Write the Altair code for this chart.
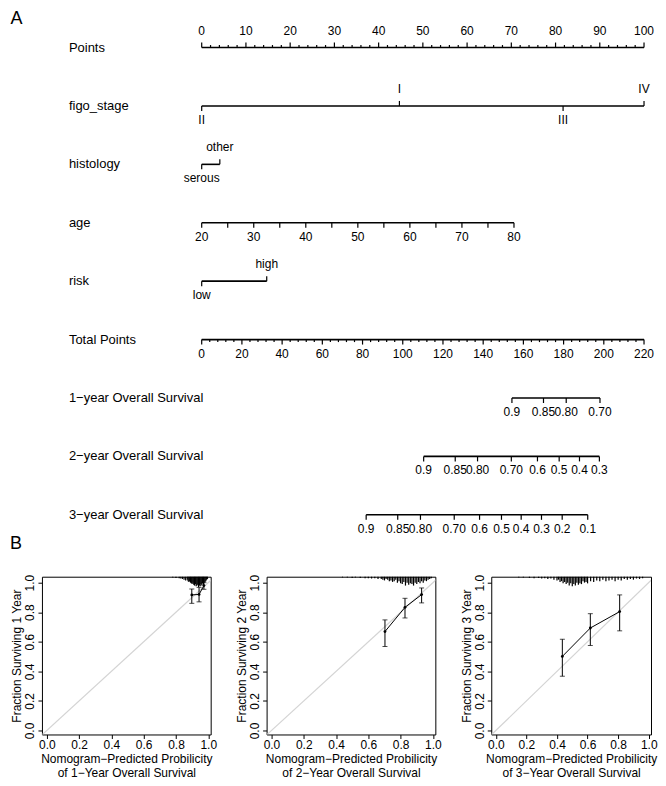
import altair as alt
import pandas as pd

FONT = "Liberation Sans"

# ---------------- nomogram values ----------------
row_names = ["Points", "figo_stage", "histology", "age", "risk", "Total Points",
             "1−year Overall Survival", "2−year Overall Survival", "3−year Overall Survival"]

points_max = 100
points_major_step = 10
points_minor_step = 2

figo_labels = ["II", "I", "III", "IV"]
figo_points = [0, 44.7, 81.7, 100]
figo_sides = ["below", "above", "below", "above"]

histology_labels = ["serous", "other"]
histology_points = [0, 4.1]
histology_sides = ["below", "above"]

age_ticks = [20, 25, 30, 35, 40, 45, 50, 55, 60, 65, 70, 75, 80]
age_labelled = [20, 30, 40, 50, 60, 70, 80]
age_points_at_80 = 70.6

risk_labels = ["low", "high"]
risk_points = [0, 14.7]
risk_sides = ["below", "above"]

total_max = 220
total_major_step = 20
total_minor_step = 4

surv1_labels = ["0.9", "0.85", "0.80", "0.70"]
surv1_total = [154.3, 170.0, 181.3, 198.1]
surv2_labels = ["0.9", "0.85", "0.80", "0.70", "0.6", "0.5", "0.4", "0.3"]
surv2_total = [110.4, 126.1, 137.2, 154.0, 167.0, 177.8, 187.9, 197.8]
surv3_labels = ["0.9", "0.85", "0.80", "0.70", "0.6", "0.5", "0.4", "0.3", "0.2", "0.1"]
surv3_total = [81.8, 97.5, 108.8, 125.6, 138.2, 149.1, 158.9, 169.0, 179.3, 192.0]

# ---------------- calibration values ----------------
cal1_pred = [0.898, 0.943, 0.973]
cal1_obs = [0.917, 0.920, 0.980]
cal1_lo = [0.860, 0.870, 0.955]
cal1_hi = [0.957, 0.968, 1.000]

cal2_pred = [0.703, 0.827, 0.930]
cal2_obs = [0.669, 0.833, 0.919]
cal2_lo = [0.568, 0.761, 0.863]
cal2_hi = [0.748, 0.894, 0.964]

cal3_pred = [0.435, 0.618, 0.810]
cal3_obs = [0.501, 0.693, 0.804]
cal3_lo = [0.367, 0.575, 0.674]
cal3_hi = [0.617, 0.790, 0.917]

spike1_x = [0.78, 0.80, 0.82, 0.83, 0.84, 0.85, 0.86, 0.87, 0.875, 0.88, 0.885, 0.89, 0.895,
            0.90, 0.905, 0.91, 0.915, 0.92, 0.925, 0.93, 0.935, 0.94, 0.945, 0.95, 0.955,
            0.96, 0.965, 0.97, 0.975, 0.98, 0.985, 0.99, 0.995]
spike1_len = [0.005, 0.008, 0.01, 0.012, 0.015, 0.02, 0.025, 0.02, 0.03, 0.035, 0.03, 0.04, 0.045,
              0.05, 0.04, 0.055, 0.06, 0.05, 0.065, 0.06, 0.055, 0.07, 0.06, 0.065, 0.05,
              0.06, 0.045, 0.055, 0.04, 0.035, 0.03, 0.02, 0.015]

spike2_x = [0.44, 0.47, 0.50, 0.52, 0.55, 0.58, 0.60, 0.62, 0.64, 0.66, 0.68,
            0.69, 0.70, 0.71, 0.72, 0.73, 0.74, 0.75, 0.76, 0.77, 0.78, 0.79, 0.80,
            0.81, 0.82, 0.83, 0.84, 0.85, 0.86, 0.87, 0.88, 0.89, 0.90, 0.91, 0.92,
            0.93, 0.94, 0.95, 0.96, 0.97, 0.98, 0.99]
spike2_len = [0.005, 0.005, 0.008, 0.005, 0.008, 0.01, 0.01, 0.012, 0.01, 0.015, 0.015,
              0.02, 0.025, 0.015, 0.02, 0.03, 0.025, 0.035, 0.03, 0.02, 0.04, 0.03, 0.045,
              0.05, 0.035, 0.06, 0.04, 0.055, 0.045, 0.05, 0.06, 0.04, 0.05, 0.035, 0.045,
              0.03, 0.04, 0.025, 0.03, 0.02, 0.015, 0.01]

spike3_x = [0.15, 0.18, 0.22, 0.25, 0.28, 0.30, 0.32, 0.34, 0.36, 0.38,
            0.40, 0.41, 0.42, 0.43, 0.44, 0.45, 0.46, 0.47, 0.48, 0.49, 0.50,
            0.51, 0.52, 0.53, 0.54, 0.55, 0.56, 0.57, 0.58, 0.59, 0.60,
            0.62, 0.64, 0.66, 0.68, 0.70, 0.72, 0.74, 0.76, 0.78, 0.80,
            0.82, 0.84, 0.86, 0.88, 0.90, 0.92, 0.94, 0.96]
spike3_len = [0.005, 0.005, 0.008, 0.01, 0.008, 0.012, 0.01, 0.015, 0.012, 0.02,
              0.025, 0.02, 0.035, 0.03, 0.045, 0.035, 0.05, 0.04, 0.06, 0.045, 0.065,
              0.05, 0.06, 0.04, 0.055, 0.045, 0.05, 0.03, 0.04, 0.035, 0.045,
              0.03, 0.035, 0.025, 0.03, 0.02, 0.03, 0.025, 0.02, 0.03, 0.02,
              0.025, 0.015, 0.02, 0.015, 0.02, 0.012, 0.015, 0.01]

# ---------------- build nomogram tables ----------------
ticks = []
lines = []


def add(row, x, label, side, long=True):
    ticks.append({"row": row, "x": x, "label": label, "side": side,
                  "len": "long" if long else "short"})


for v in range(0, points_max + 1, points_minor_step):
    major = v % points_major_step == 0
    add(0, v, str(v) if major else "", "above", major)
lines.append({"row": 0, "x": 0, "x2": points_max})

for lab, p, s in zip(figo_labels, figo_points, figo_sides):
    add(1, p, lab, s)
lines.append({"row": 1, "x": min(figo_points), "x2": max(figo_points)})

for lab, p, s in zip(histology_labels, histology_points, histology_sides):
    add(2, p, lab, s)
lines.append({"row": 2, "x": min(histology_points), "x2": max(histology_points)})

for a in age_ticks:
    p = (a - age_ticks[0]) / (age_ticks[-1] - age_ticks[0]) * age_points_at_80
    add(3, p, str(a) if a in age_labelled else "", "below")
lines.append({"row": 3, "x": 0, "x2": age_points_at_80})

for lab, p, s in zip(risk_labels, risk_points, risk_sides):
    add(4, p, lab, s)
lines.append({"row": 4, "x": min(risk_points), "x2": max(risk_points)})

scale_tp = points_max / total_max
for v in range(0, total_max + 1, total_minor_step):
    major = v % total_major_step == 0
    add(5, v * scale_tp, str(v) if major else "", "below", major)
lines.append({"row": 5, "x": 0, "x2": points_max})

for r, labs, tps in [(6, surv1_labels, surv1_total), (7, surv2_labels, surv2_total),
                     (8, surv3_labels, surv3_total)]:
    for lab, tp in zip(labs, tps):
        add(r, tp * scale_tp, lab, "below")
    lines.append({"row": r, "x": min(tps) * scale_tp, "x2": max(tps) * scale_tp})

ticks_df = pd.DataFrame(ticks)
lines_df = pd.DataFrame(lines)

AXIS_EXT = 32
NOMO_W, NOMO_H = 607, 548
PX_PER_POINT = 4.43
ROW_PX = 58.5
XMIN = -(192 - AXIS_EXT) / PX_PER_POINT
XMAX = XMIN + NOMO_W / PX_PER_POINT
YMIN = -38 / ROW_PX
YMAX = YMIN + NOMO_H / ROW_PX

xs = alt.Scale(domain=[XMIN, XMAX], nice=False, zero=False)
ys = alt.Scale(domain=[YMIN, YMAX], nice=False, zero=False, reverse=True)
X = alt.X("x:Q", scale=xs, axis=None)
Y = alt.Y("row:Q", scale=ys, axis=None)

base_t = alt.Chart(ticks_df)
layers = [
    alt.Chart(lines_df).mark_rule(color="black", strokeWidth=1.6).encode(
        x=X, x2="x2:Q", y=Y),
]
for side, ln, off in [("above", "long", -5), ("above", "short", -2.5),
                      ("below", "long", 5), ("below", "short", 2.5)]:
    layers.append(
        base_t.transform_filter(
            (alt.datum.side == side) & (alt.datum.len == ln)
        ).mark_rule(color="black", strokeWidth=1.2, y2Offset=off).encode(
            x=X, y=Y, y2="row:Q")
    )
layers.append(
    base_t.transform_filter(alt.datum.side == "above").mark_text(
        baseline="bottom", dy=-10, fontSize=12, color="black").encode(
        x=X, y=Y, text="label:N")
)
layers.append(
    base_t.transform_filter(alt.datum.side == "below").mark_text(
        baseline="top", dy=9, fontSize=12, color="black").encode(
        x=X, y=Y, text="label:N")
)
names_df = pd.DataFrame({"row": list(range(len(row_names))), "name": row_names,
                         "x": [XMIN] * len(row_names)})
layers.append(
    alt.Chart(names_df).mark_text(align="left", baseline="middle", dx=59 - AXIS_EXT,
                                  fontSize=13, color="black").encode(
        x=X, y=Y, text="name:N")
)
panel_df = pd.DataFrame({"tag": ["A", "B"], "x": [XMIN, XMIN], "row": [YMIN, YMAX]})
layers.append(
    alt.Chart(panel_df).transform_filter(alt.datum.tag == "A").mark_text(
        align="center", baseline="middle", dx=6.5 - AXIS_EXT, dy=9, fontSize=18,
        color="black").encode(x=X, y=Y, text="tag:N")
)
layers.append(
    alt.Chart(panel_df).transform_filter(alt.datum.tag == "B").mark_text(
        align="center", baseline="middle", dx=6 - AXIS_EXT, dy=-13, fontSize=18,
        color="black").encode(x=X, y=Y, text="tag:N")
)
nomo = alt.layer(*layers).properties(width=NOMO_W, height=NOMO_H)

# ---------------- calibration panels ----------------
CX = [-0.03, 1.015]
CY = [-0.027, 1.04]
TICKS = [0, 0.2, 0.4, 0.6, 0.8, 1.0]


def cal_panel(year, pred, obs, lo, hi, sx, sl, width):
    cxs = alt.Scale(domain=CX, nice=False, zero=False)
    cys = alt.Scale(domain=CY, nice=False, zero=False)
    pts = pd.DataFrame({"x": pred, "y": obs, "lo": lo, "hi": hi})
    diag = pd.DataFrame({"x": [CX[0] - 0.05, CY[1] + 0.05], "y": [CX[0] - 0.05, CY[1] + 0.05]})
    spikes = pd.DataFrame({"x": sx, "len": sl})
    xa = alt.Axis(values=TICKS, format=".1f", tickSize=4,
                  labelPadding=1, labelFlush=False, titlePadding=3,
                  title=["Nomogram−Predicted Probilicity", f"of {year}−Year Overall Survival"])
    ya = alt.Axis(values=TICKS, format=".1f", tickSize=4,
                  labelAngle=270, labelAlign="center", labelBaseline="bottom",
                  labelPadding=1, labelFlush=False, titlePadding=0,
                  title=f"Fraction Surviving {year} Year")

    def XX(f="x"):
        return alt.X(f"{f}:Q", scale=cxs, axis=xa)

    def YY(f):
        return alt.Y(f"{f}:Q", scale=cys, axis=ya)

    d = alt.Chart(diag).mark_line(color="#d4d4d4", strokeWidth=1.2, clip=True).encode(
        x=XX(), y=YY("y"))
    sp = alt.Chart(spikes).transform_calculate(
        top=str(CY[1]), bot=f"{CY[1]} - datum.len").mark_rule(
        color="black", strokeWidth=1.2).encode(
        x=XX(), y=YY("top"), y2="bot:Q")
    ln = alt.Chart(pts).mark_line(color="black", strokeWidth=1).encode(
        x=XX(), y=YY("y"))
    eb = alt.Chart(pts).mark_rule(color="black", strokeWidth=1).encode(
        x=XX(), y=YY("lo"), y2="hi:Q")
    cap_lo = alt.Chart(pts).mark_tick(color="black", orient="horizontal", size=5,
                                      thickness=1).encode(x=XX(), y=YY("lo"))
    cap_hi = alt.Chart(pts).mark_tick(color="black", orient="horizontal", size=5,
                                      thickness=1).encode(x=XX(), y=YY("hi"))
    pt = alt.Chart(pts).mark_circle(color="black", size=8, opacity=1).encode(
        x=XX(), y=YY("y"))
    return alt.layer(d, sp, ln, eb, cap_lo, cap_hi, pt).properties(
        width=width, height=158,
        view=alt.ViewBackground(stroke="black", strokeWidth=1))


p1 = cal_panel(1, cal1_pred, cal1_obs, cal1_lo, cal1_hi, spike1_x, spike1_len, 169)
p2 = cal_panel(2, cal2_pred, cal2_obs, cal2_lo, cal2_hi, spike2_x, spike2_len, 169)
p3 = cal_panel(3, cal3_pred, cal3_obs, cal3_lo, cal3_hi, spike3_x, spike3_len, 160)

cal_row = alt.hconcat(p1, p2, p3, spacing=17)

chart = alt.vconcat(nomo, cal_row, spacing=16).properties(
    padding={"left": 1, "top": 0, "right": 0, "bottom": 0}
).configure(font=FONT).configure_view(stroke="transparent").configure_axis(
    labelColor="black", titleColor="black", tickColor="black", labelFontSize=12,
    titleFontSize=12, titleFontWeight="normal", grid=False, domain=False,
    labelFont=FONT, titleFont=FONT, titleLineHeight=14
).configure_text(font=FONT)

chart.save("out.html", embed_options={"renderer": "svg", "actions": False})
